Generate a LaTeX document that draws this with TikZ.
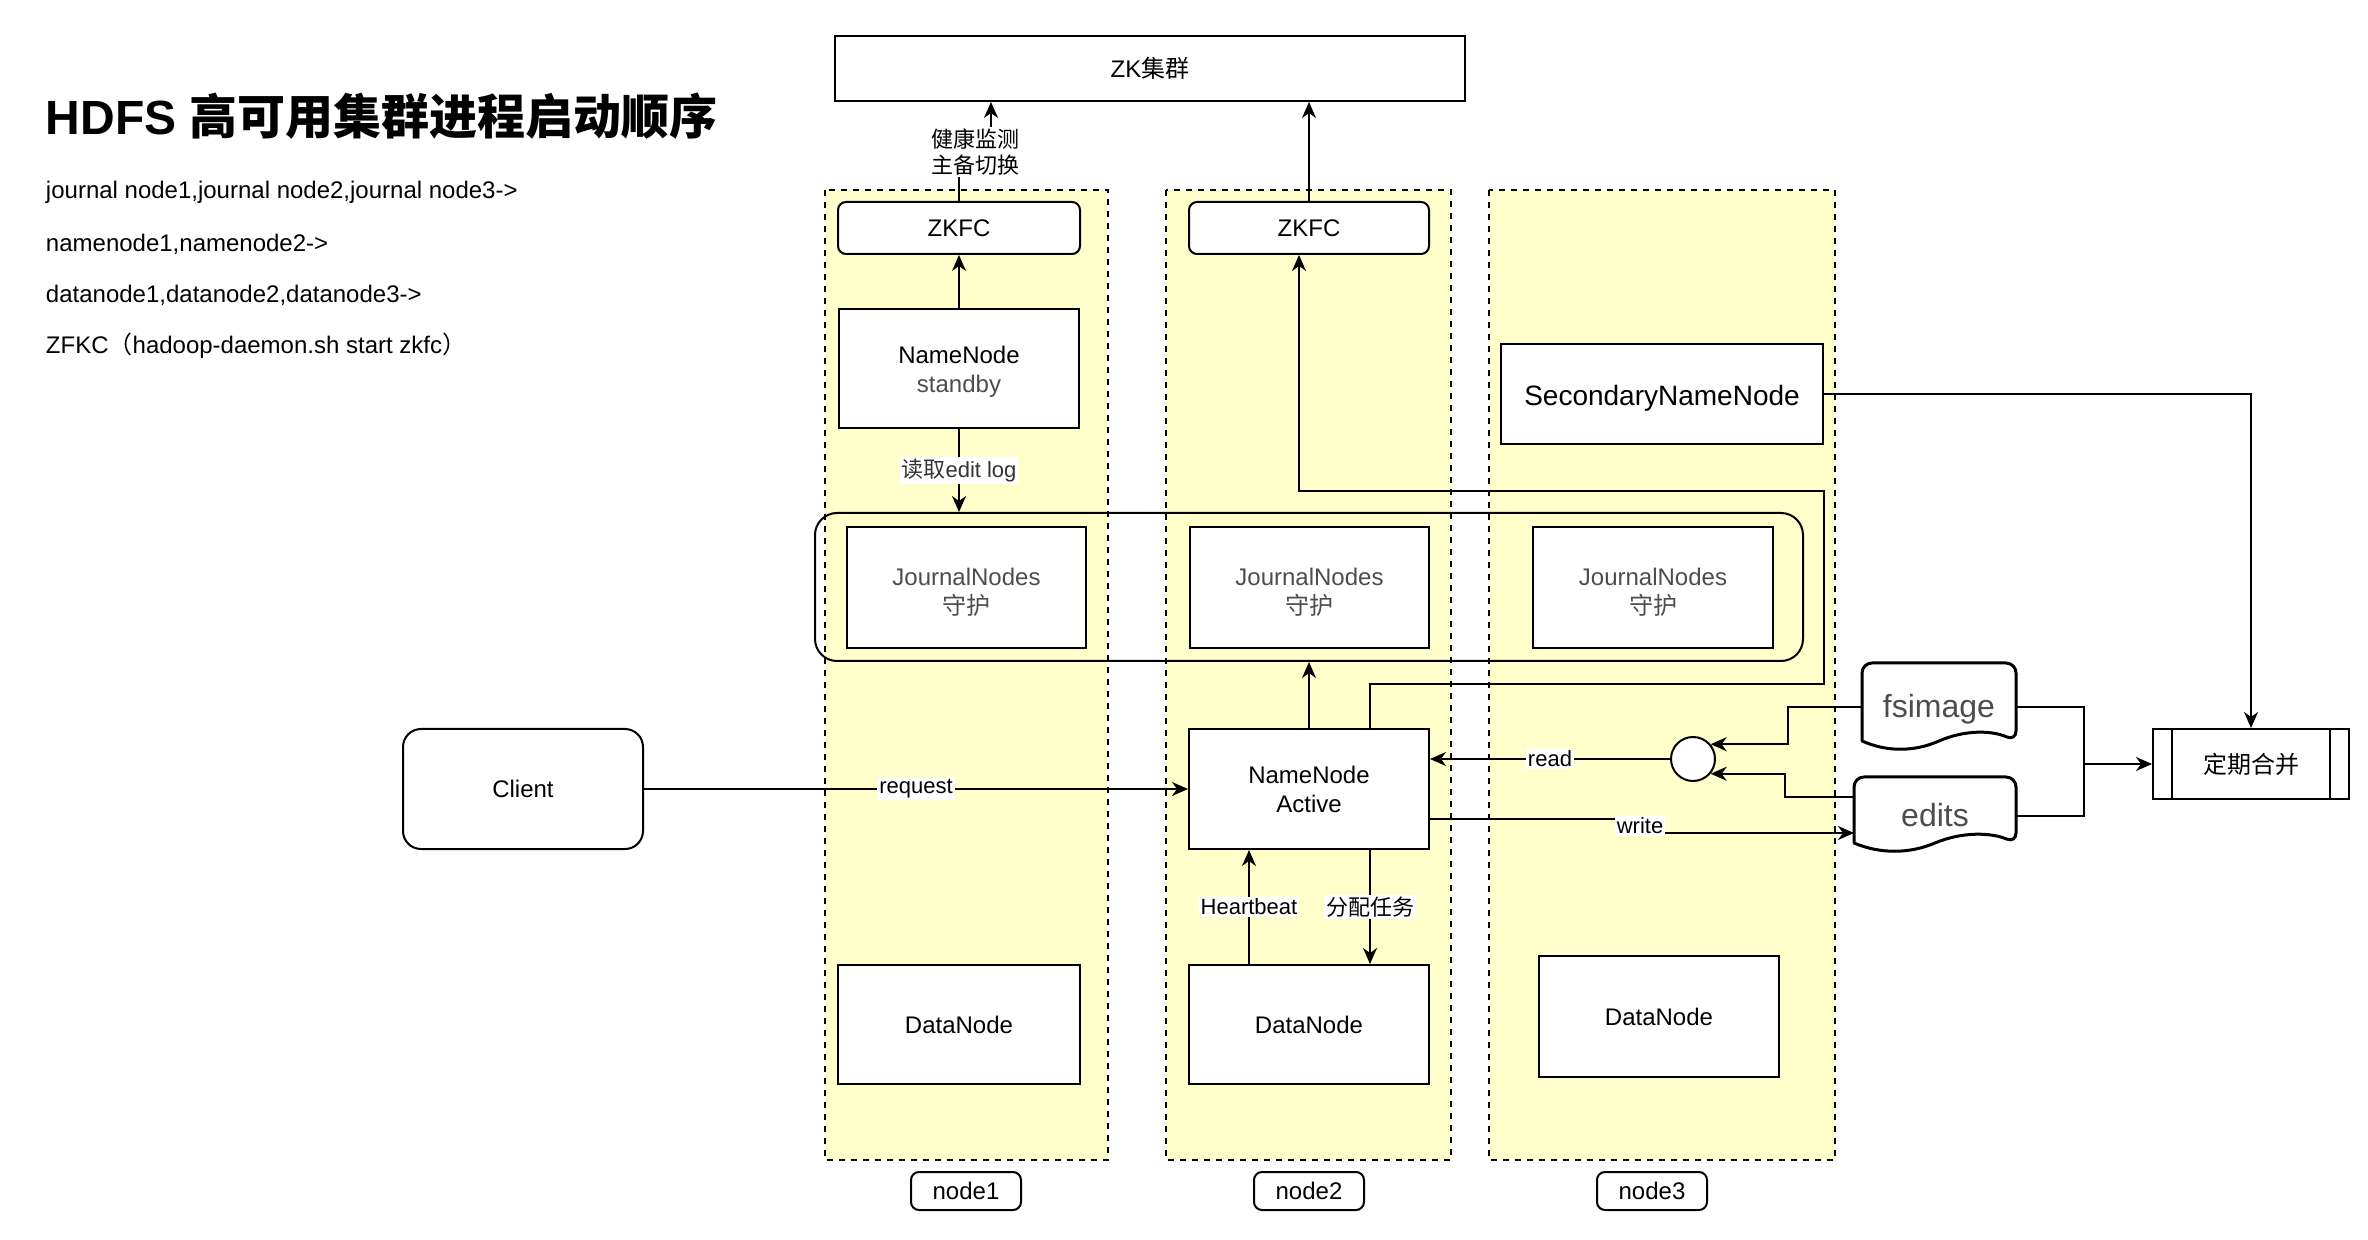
\documentclass[tikz,border=0pt]{standalone}
\usepackage{fontspec}
\setmainfont{Liberation Sans}
\newfontfamily\cjk{Noto Sans CJK SC}
\usetikzlibrary{arrows.meta,calc}
\definecolor{colfill}{HTML}{FFFFCC}
\definecolor{txtgray}{HTML}{4D4D4D}
\newcommand\zh[1]{{\cjk #1}}

\begin{document}
\begin{tikzpicture}[x=0.5pt,y=-0.5pt,
  >={Stealth[length=8pt,width=7pt,inset=2.5pt]},
  line width=1pt,
  every node/.style={font=\fontsize{12}{14.5}\selectfont,align=center},
  box/.style={draw,fill=white,inner sep=2pt},
  rbox/.style={box,rounded corners=4pt},
  col/.style={draw,dash pattern=on 3pt off 3pt,fill=colfill},
  lbl/.style={fill=white,inner sep=1pt,font=\fontsize{11}{13}\selectfont},
  doc/.style={line width=1.5pt,line join=round},
  txtline/.style={anchor=west,inner sep=0pt}]
  \useasboundingbox (0,0) rectangle (2368,1240);

  \draw[col] (825,190) rectangle (1108,1160);
  \draw[col] (1166,190) rectangle (1451,1160);
  \draw[col] (1489,190) rectangle (1835,1160);

  \node[txtline,font=\bfseries\fontsize{24}{29}\selectfont] (title) at (45,116) {HDFS \zh{高可用集群进程启动顺序}};
  \node[txtline] (seq1) at (45,192) {journal node1,journal node2,journal node3->};
  \node[txtline] (seq2) at (45,244) {namenode1,namenode2->};
  \node[txtline] (seq3) at (45,295) {datanode1,datanode2,datanode3->};
  \node[txtline] (seq4) at (45,346) {ZFKC\zh{（}hadoop-daemon.sh start zkfc\zh{）}};

  \node[box,minimum width=315pt,minimum height=32.5pt] (zk) at (1150,68.5) {ZK\zh{集群}};
  \node[rbox,minimum width=121pt,minimum height=26pt] (zkfc1) at (959,228) {ZKFC};
  \node[rbox,minimum width=120pt,minimum height=26pt] (zkfc2) at (1309,228) {ZKFC};
  \node[box,minimum width=120pt,minimum height=59.5pt] (nns) at (959,368.5) {\rule{0pt}{11.75pt}NameNode\\\textcolor{txtgray}{standby}};
  \node[box,minimum width=161pt,minimum height=50pt,font=\fontsize{14}{17}\selectfont] (snn) at (1662,394) {\rule{0pt}{14.7pt}SecondaryNameNode};

  \node[draw,rounded corners=11pt,minimum width=494pt,minimum height=74pt] (jn) at (1309,587) {};
  \node[box,minimum width=119.5pt,minimum height=60.5pt,text=txtgray] (jn1) at (966.5,587.5) {\rule{0pt}{13.25pt}JournalNodes\\\zh{守护}};
  \node[box,minimum width=119.5pt,minimum height=60.5pt,text=txtgray] (jn2) at (1309.5,587.5) {\rule{0pt}{13.25pt}JournalNodes\\\zh{守护}};
  \node[box,minimum width=120pt,minimum height=60.5pt,text=txtgray] (jn3) at (1653,587.5) {\rule{0pt}{13.25pt}JournalNodes\\\zh{守护}};

  \node[box,rounded corners=9pt,minimum width=120pt,minimum height=60pt] (client) at (523,789) {Client};
  \node[box,minimum width=120pt,minimum height=60pt] (nna) at (1309,789) {NameNode\\Active};
  \node[draw,fill=white,circle,minimum size=22pt,inner sep=0pt] (mrg) at (1693,759) {};

  \node[box,minimum width=121pt,minimum height=59.5pt] (dn1) at (959,1024.5) {DataNode};
  \node[box,minimum width=120pt,minimum height=59.5pt] (dn2) at (1309,1024.5) {DataNode};
  \node[box,minimum width=120pt,minimum height=60.5pt] (dn3) at (1659,1016.5) {DataNode};

  \node[rbox,minimum width=55pt,minimum height=19pt] (lab1) at (966,1191) {node1};
  \node[rbox,minimum width=55pt,minimum height=19pt] (lab2) at (1309,1191) {node2};
  \node[rbox,minimum width=55pt,minimum height=19pt] (lab3) at (1652,1191) {node3};

  \node[minimum width=76pt,minimum height=38pt,inner sep=0pt,text=txtgray,font=\fontsize{16}{19}\selectfont] (fsi) at (1939,702) {\rule{0pt}{18.7pt}fsimage};
  \node[minimum width=80pt,minimum height=32pt,inner sep=0pt,text=txtgray,font=\fontsize{16}{19}\selectfont] (edits) at (1935,810) {\rule{0pt}{16.2pt}edits};
  \draw[doc,rounded corners=5pt] (fsi.south west) -- (fsi.north west) -- (fsi.north east) -- (fsi.south east) [sharp corners]
    .. controls +(-25,-11) and +(25,-11) .. (fsi.south) .. controls +(-25,11) and +(25,11) .. (fsi.south west) -- cycle;
  \draw[doc,rounded corners=5pt] (edits.south west) -- (edits.north west) -- (edits.north east) -- (edits.south east) [sharp corners]
    .. controls +(-26,-11) and +(26,-11) .. (edits.south) .. controls +(-26,11) and +(26,11) .. (edits.south west) -- cycle;

  \node[box,minimum width=98pt,minimum height=35pt] (mg) at (2251,764) {\zh{定期合并}};
  \draw ([xshift=10pt]mg.north west) -- ([xshift=10pt]mg.south west);
  \draw ([xshift=-10pt]mg.north east) -- ([xshift=-10pt]mg.south east);

  \coordinate (hj) at (991,152);
  \draw[->] (zkfc1.north) |- (hj) -- (hj |- zk.south);
  \node[lbl] (lhc) at (975,152) {\zh{健康监测}\\\zh{主备切换}};
  \draw[->] (zkfc2.north) -- (zkfc2.north |- zk.south);
  \draw[->] (nns) -- (zkfc1);
  \draw[->] (nns.south) -- (nns.south |- jn.north) node[midway,lbl,text=black!80] (lrd) {\zh{读取}edit log};
  \draw[->] (nna.north) -- (nna.north |- jn.south);

  \coordinate (ua) at (1824,684);
  \coordinate (ub) at (1299,491);
  \draw[->] ([xshift=30.5pt]nna.north) |- (ua) |- (ub) -- (ub |- zkfc2.south);

  \draw[->] (client) -- (nna) node[midway,lbl] (lrq) {request};
  \draw[->] (mrg.west) -- (mrg.west -| nna.east) node[midway,lbl] (lread) {read};

  \coordinate (wj) at (1637,819);
  \draw[->] ([yshift=-15pt]nna.east) -- (wj) |- ([yshift=-11.5pt]edits.west);
  \node[lbl] (lwr) at (1640,826) {write};

  \draw[->] ([yshift=-2.5pt]fsi.west) -- ++(-74,0) |- (mrg.40);
  \draw[->] ([yshift=6.5pt]edits.west) -- ++(-69,0) |- (mrg.-40);

  \coordinate (mj) at (2084,764);
  \draw ([yshift=-2.5pt]fsi.east) -| (mj);
  \draw ([yshift=-3pt]edits.east) -| (mj);
  \draw[->] (mj) -- (mg.west);
  \draw[->] (snn.east) -| (mg.north);

  \draw[->] ([xshift=-30pt]dn2.north) -- ([xshift=-30pt]nna.south) node[midway,lbl] (lhb) {Heartbeat};
  \draw[->] ([xshift=30.5pt]nna.south) -- ([xshift=30.5pt]dn2.north) node[midway,lbl] (lfp) {\zh{分配任务}};
\end{tikzpicture}
\end{document}
